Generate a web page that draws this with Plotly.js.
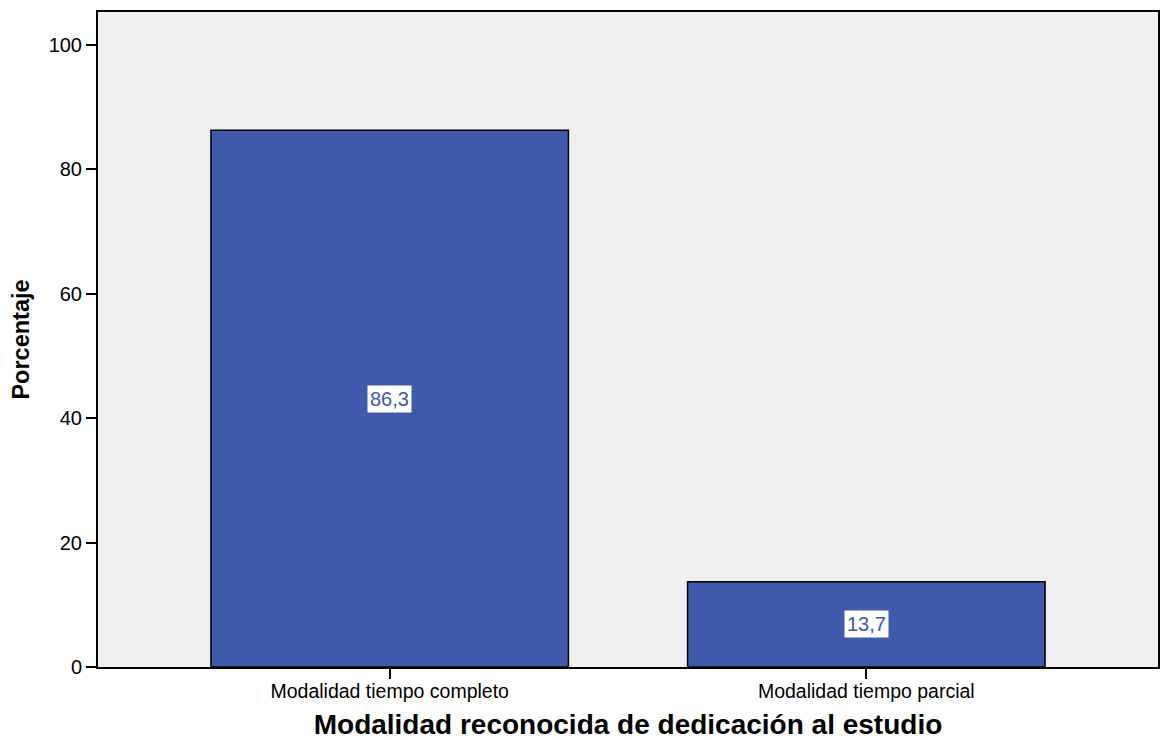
<!DOCTYPE html>
<html><head><meta charset="utf-8">
<script src="https://cdn.plot.ly/plotly-3.0.1.min.js"></script>
<style>html,body{margin:0;padding:0;background:#fff}</style>
</head><body>
<div id="chart" style="width:1160px;height:740px"></div>
<script>
const categories = ["Modalidad tiempo completo", "Modalidad tiempo parcial"];
const percentages = [86.3, 13.7];
const labels = ["86,3", "13,7"];

const trace = {
  type: 'bar',
  x: categories,
  y: percentages,
  width: 0.75,
  marker: {color: '#3f59ab', line: {color: '#000', width: 1.5}},
  hoverinfo: 'none'
};

const annotations = categories.map((c, i) => ({
  x: c, y: percentages[i] / 2, xref: 'x', yref: 'y',
  text: labels[i], showarrow: false,
  font: {family: 'Liberation Sans, Arial, sans-serif', size: 20, color: '#3f59ab'},
  bgcolor: '#ffffff', borderpad: 2
}));

const layout = {
  width: 1160, height: 740,
  margin: {l: 98, r: 2, t: 12, b: 73},
  paper_bgcolor: '#ffffff',
  plot_bgcolor: '#f0f0f0',
  showlegend: false,
  font: {family: 'Liberation Sans, Arial, sans-serif', color: '#000'},
  xaxis: {
    range: [-0.612, 1.612],
    showline: true, linecolor: '#000', linewidth: 2, mirror: true,
    ticks: 'outside', ticklen: 10, tickwidth: 2, tickcolor: '#000',
    ticklabelstandoff: -4,
    tickfont: {size: 19.5, color: '#000'},
    showgrid: false, zeroline: false,
    title: {text: '<b>Modalidad reconocida de dedicación al estudio</b>', font: {size: 28, color: '#000'}, standoff: 18}
  },
  yaxis: {
    range: [0, 105.3],
    tickvals: [0, 20, 40, 60, 80, 100],
    showline: true, linecolor: '#000', linewidth: 2, mirror: true,
    ticks: 'outside', ticklen: 10, tickwidth: 2, tickcolor: '#000',
    tickfont: {size: 20, color: '#000'},
    showgrid: false, zeroline: false,
    title: {text: '<b>Porcentaje</b>', font: {size: 23.5, color: '#000'}, standoff: 12}
  },
  annotations: annotations
};

Plotly.newPlot('chart', [trace], layout, {displayModeBar: false, staticPlot: true});
</script>
</body></html>
